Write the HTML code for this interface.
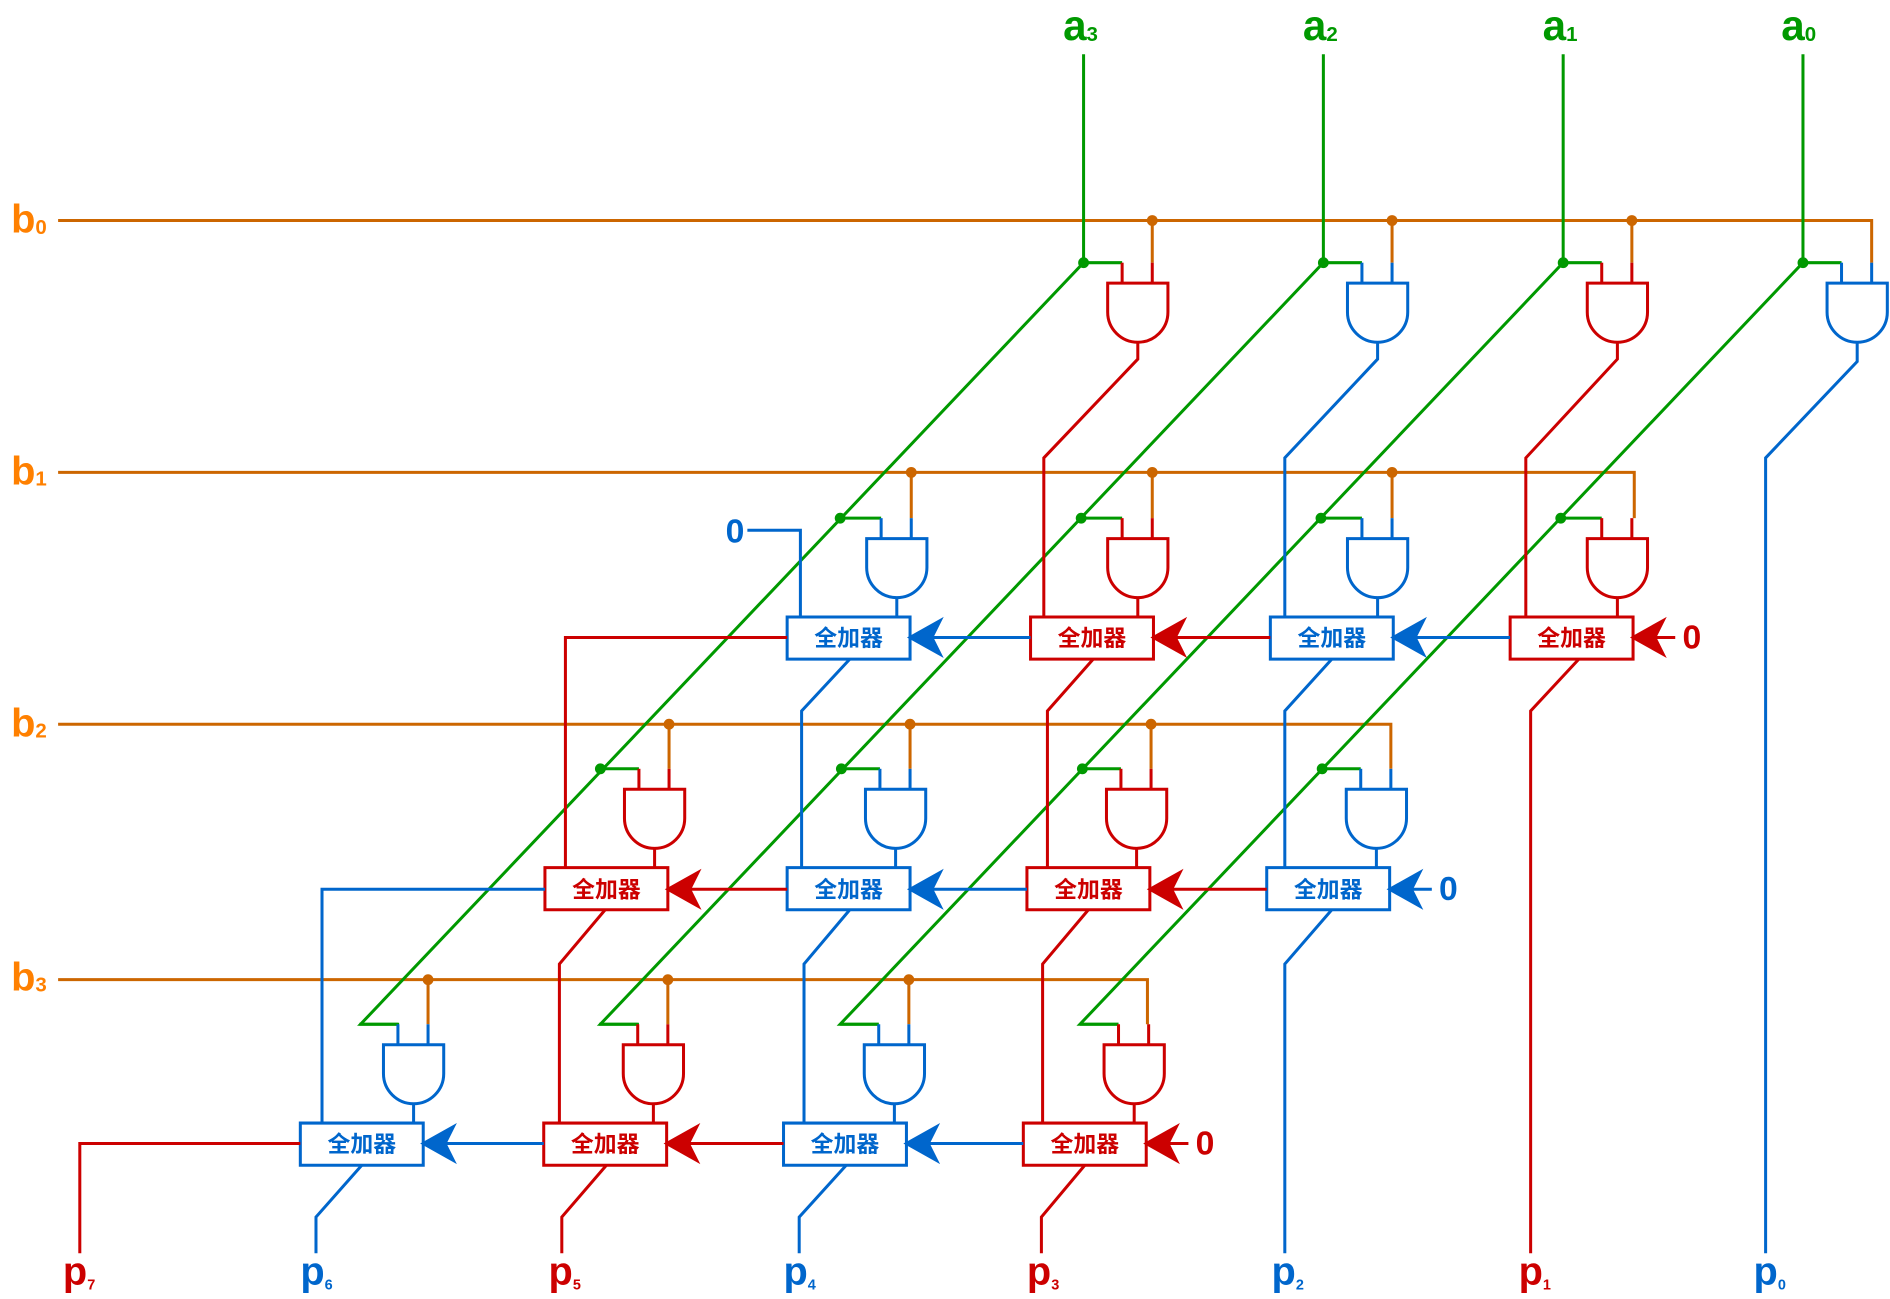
<!DOCTYPE html>
<html><head><meta charset="utf-8"><style>
html,body{margin:0;padding:0;background:#fff;}
svg{display:block;}
.fa{font-family:"Liberation Sans","Noto Sans CJK SC",sans-serif;font-weight:bold;font-size:19px;}
.lb{font-family:"Liberation Sans",sans-serif;font-weight:bold;}
</style></head><body>
<svg id="s" width="1890" height="1299" viewBox="0 0 1568 1078" xmlns="http://www.w3.org/2000/svg">
<g id="g" fill="none" stroke-width="2.5" stroke-linejoin="miter"></g>
<g class="lb" font-size="35">
<text x="882" y="33" fill="#009900">a<tspan font-size="17" dy="1">3</tspan></text>
<text x="1081" y="33" fill="#009900">a<tspan font-size="17" dy="1">2</tspan></text>
<text x="1280" y="33" fill="#009900">a<tspan font-size="17" dy="1">1</tspan></text>
<text x="1478" y="33" fill="#009900">a<tspan font-size="17" dy="1">0</tspan></text>
</g>
<g class="lb" font-size="33">
<text x="9" y="193" fill="#ff8000">b<tspan font-size="17" dy="1">0</tspan></text>
<text x="9" y="402" fill="#ff8000">b<tspan font-size="17" dy="1">1</tspan></text>
<text x="9" y="611" fill="#ff8000">b<tspan font-size="17" dy="1">2</tspan></text>
<text x="9" y="822" fill="#ff8000">b<tspan font-size="17" dy="1">3</tspan></text>
</g>
<g class="lb" font-size="33">
<text x="52" y="1066" fill="#cc0000">p<tspan font-size="12" dy="4">7</tspan></text>
<text x="249" y="1066" fill="#0066cc">p<tspan font-size="12" dy="4">6</tspan></text>
<text x="455" y="1066" fill="#cc0000">p<tspan font-size="12" dy="4">5</tspan></text>
<text x="650" y="1066" fill="#0066cc">p<tspan font-size="12" dy="4">4</tspan></text>
<text x="852" y="1066" fill="#cc0000">p<tspan font-size="12" dy="4">3</tspan></text>
<text x="1055" y="1066" fill="#0066cc">p<tspan font-size="12" dy="4">2</tspan></text>
<text x="1260" y="1066" fill="#cc0000">p<tspan font-size="12" dy="4">1</tspan></text>
<text x="1455" y="1066" fill="#0066cc">p<tspan font-size="12" dy="4">0</tspan></text>
</g>
<g class="lb" font-size="28">
<text x="602" y="450" fill="#0066cc">0</text>
<text x="1396" y="538" fill="#cc0000">0</text>
<text x="1194" y="747" fill="#0066cc">0</text>
<text x="992" y="958" fill="#cc0000">0</text>
</g>
<g class="fa" text-anchor="middle">
<text x="704" y="536" fill="#0066cc">全加器</text>
<text x="906" y="536" fill="#cc0000">全加器</text>
<text x="1105" y="536" fill="#0066cc">全加器</text>
<text x="1304" y="536" fill="#cc0000">全加器</text>
<text x="503" y="745" fill="#cc0000">全加器</text>
<text x="704" y="745" fill="#0066cc">全加器</text>
<text x="903" y="745" fill="#cc0000">全加器</text>
<text x="1102" y="745" fill="#0066cc">全加器</text>
<text x="300" y="956" fill="#0066cc">全加器</text>
<text x="502" y="956" fill="#cc0000">全加器</text>
<text x="701" y="956" fill="#0066cc">全加器</text>
<text x="900" y="956" fill="#cc0000">全加器</text>
</g>
</svg>
<script>
var G=document.getElementById('g'),NS='http://www.w3.org/2000/svg';
var R='#cc0000',B='#0066cc',GR='#009900',O='#cc6600';
function P(d,c,f){var p=document.createElementNS(NS,'path');p.setAttribute('d',d);p.setAttribute('stroke',c);if(f)p.setAttribute('fill',f);G.appendChild(p);}
function C(x,y,c){var e=document.createElementNS(NS,'circle');e.setAttribute('cx',x);e.setAttribute('cy',y);e.setAttribute('r',4.5);e.setAttribute('fill',c);G.appendChild(e);}
var yb=[183,392,601,813],yg=[218,430,638,850];
var bend=[1553,1356,1154,952];
for(var r=0;r<4;r++){P('M48 '+yb[r]+'H'+bend[r]+'V'+yg[r],O);}
var ax=[899,1098,1297,1496];
for(var j=0;j<4;j++){var X=ax[j];P('M'+X+' 45V218L'+(X-600)+' 850H'+(X-600+32),GR);}
var gates=[[[899,R],[1098,B],[1297,R],[1496,B]],[[699,B],[899,R],[1098,B],[1297,R]],[[498,R],[698,B],[898,R],[1097,B]],[[298,B],[497,R],[697,B],[896,R]]];
for(var r=0;r<4;r++)for(var k=0;k<4;k++){
 var X=gates[r][k][0],c=gates[r][k][1],y=yg[r],t=y+17;
 var gx=(r==0)?X:X-(r==1?2:(r==2?0:0));
 if(r<3)C(gx,y,GR);
 P('M'+gx+' '+y+'H'+(X+32),GR);
 P('M'+(X+32)+' '+y+'V'+t,c);
 if(k<3){C(X+57,yb[r],O);P('M'+(X+57)+' '+yb[r]+'V'+y,O);}
 P('M'+(X+57)+' '+y+'V'+t,c);
 P('M'+(X+20)+' '+t+'v24a25 25 0 0 0 50 0v-24z',c);
}
P('M1541 284V300L1465 380V1040',B);
P('M1342 284V298L1266 380V512',R);
P('M1143 284V298L1066 380V512',B);
P('M944 284V298L866 380V512',R);
var fay=[0,512,720,932];
for(var r=1;r<4;r++)for(var k=0;k<4;k++){var X=gates[r][k][0],c=gates[r][k][1];P('M'+(X+45)+' '+(yg[r]+66)+'V'+fay[r],c);}
var fas=[[1,653,B],[1,855,R],[1,1054,B],[1,1253,R],[2,452,R],[2,653,B],[2,852,R],[2,1051,B],[3,249,B],[3,451,R],[3,650,B],[3,849,R]];
fas.forEach(function(f){P('M'+f[1]+' '+fay[f[0]]+'h102v35h-102z',f[2],'#fff');});
function arrow(x1,x2,y,c){P('M'+x1+' '+y+'H'+(x2+14),c);P('M'+x2+' '+y+'l25 -14l-7 14l7 14z',c,c);}
arrow(1390,1355,529,R);arrow(1253,1156,529,B);arrow(1054,957,529,R);arrow(855,755,529,B);
arrow(1188,1153,738,B);arrow(1051,954,738,R);arrow(852,755,738,B);arrow(653,554,738,R);
arrow(986,951,949,R);arrow(849,752,949,B);arrow(650,553,949,R);arrow(451,351,949,B);
P('M620 440H664V512',B);
P('M653 529H469V720',R);
P('M452 738H267V932',B);
P('M249 949H66V1040',R);
P('M1310 547L1270 590V1040',R);
P('M1105 547L1066 590V720',B);
P('M907 547L869 590V720',R);
P('M705 547L665 590V720',B);
P('M1105 755L1066 800V1040',B);
P('M903 755L865 800V932',R);
P('M705 755L667 800V932',B);
P('M502 755L464 800V932',R);
P('M900 967L864 1010V1040',R);
P('M702 967L663 1010V1040',B);
P('M503 967L466 1010V1040',R);
P('M300 967L262 1010V1040',B);
</script>
</body></html>
